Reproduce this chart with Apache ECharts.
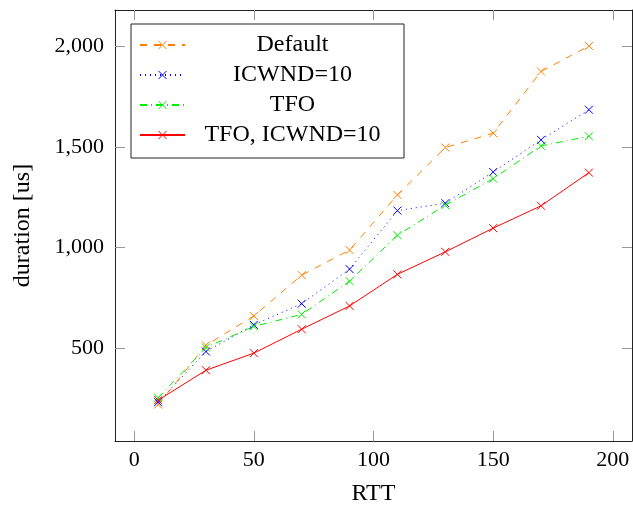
<!DOCTYPE html>
<html>
<head>
<meta charset="utf-8">
<script src="https://cdn.jsdelivr.net/npm/echarts@6/dist/echarts.min.js"></script>
<style>
  html, body { margin: 0; padding: 0; background: #fff; }
  #chart { width: 633px; height: 508px; }
</style>
</head>
<body>
<div id="chart"></div>
<script>
const rtt = [10, 30, 50, 70, 90, 110, 130, 150, 170, 190];
const defaultDur = [218, 513, 659, 862, 987, 1261, 1497, 1568, 1875, 2002];
const icwndDur = [230, 482, 615, 720, 892, 1183, 1220, 1375, 1535, 1685];
const tfoDur = [252, 502, 607, 667, 832, 1061, 1210, 1342, 1505, 1553];
const tfoIcwndDur = [240, 389, 474, 593, 709, 866, 978, 1096, 1207, 1372];
const xTicks = [0, 50, 100, 150, 200];
const yTicks = [500, 1000, 1500, 2000];

const font = '"Liberation Serif", "DejaVu Serif", serif';
const crossPath = 'path://M0,0L10,10M10,0L0,10';

function pairs(ys) {
  return rtt.map((x, i) => [x, ys[i]]);
}

function makeSeries(name, ys, color, lineType) {
  return {
    name: name,
    type: 'line',
    data: pairs(ys),
    symbol: crossPath,
    symbolSize: 8,
    showSymbol: true,
    lineStyle: { color: color, width: 1, type: lineType },
    itemStyle: { color: color, borderColor: color, borderWidth: 1 },
    emphasis: { disabled: true },
    animation: false
  };
}

function axisBase(position, ticks, showLabel) {
  return {
    type: 'value',
    position: position,
    axisLine: { show: true, onZero: false, lineStyle: { color: '#222', width: 1 } },
    axisTick: { show: true, inside: true, length: 10, customValues: ticks, lineStyle: { color: '#999', width: 1 } },
    axisLabel: {
      show: showLabel,
      customValues: ticks,
      color: '#000',
      fontFamily: font,
      fontSize: 22,
      formatter: v => Number(v).toLocaleString('en-US')
    },
    splitLine: { show: false }
  };
}

const chart = echarts.init(document.getElementById('chart'));

const xBottom = Object.assign(axisBase('bottom', xTicks, true), {
  min: -8, max: 208,
  name: 'RTT', nameLocation: 'middle', nameGap: 41,
  nameTextStyle: { color: '#000', fontFamily: font, fontSize: 24 }
});
xBottom.axisLabel.margin = 8;
const xTop = Object.assign(axisBase('top', xTicks, false), { min: -8, max: 208 });

const yLeft = Object.assign(axisBase('left', yTicks, true), {
  min: 37, max: 2181,
  name: 'duration [us]', nameLocation: 'middle', nameGap: 80,
  nameTextStyle: { color: '#000', fontFamily: font, fontSize: 24 }
});
yLeft.axisLabel.margin = 11;
const yRight = Object.assign(axisBase('right', yTicks, false), { min: 37, max: 2181 });

chart.setOption({
  animation: false,
  grid: { left: 115, top: 10, width: 517, height: 431, containLabel: false, outerBoundsMode: 'none' },
  legend: {
    orient: 'vertical',
    left: 131,
    top: 24,
    padding: [9, 9, 11, 8],
    itemWidth: 45,
    itemHeight: 10,
    itemGap: 6,
    borderColor: '#222',
    borderWidth: 1,
    backgroundColor: '#fff',
    itemStyle: { borderWidth: 1 },
    formatter: name => '{t|' + name + '}',
    textStyle: {
      fontFamily: font,
      fontSize: 24,
      color: '#000',
      rich: { t: { width: 205, align: 'center', fontFamily: font, fontSize: 24, lineHeight: 26 } }
    },
    data: ['Default', 'ICWND=10', 'TFO', 'TFO, ICWND=10']
  },
  xAxis: [xBottom, xTop],
  yAxis: [yLeft, yRight],
  series: [
    makeSeries('Default', defaultDur, '#ff8000', [7, 7]),
    makeSeries('ICWND=10', icwndDur, '#0000ff', [1, 4]),
    makeSeries('TFO', tfoDur, '#00ee00', [7, 4, 1, 4]),
    makeSeries('TFO, ICWND=10', tfoIcwndDur, '#ff0000', 'solid')
  ]
});
</script>
</body>
</html>
